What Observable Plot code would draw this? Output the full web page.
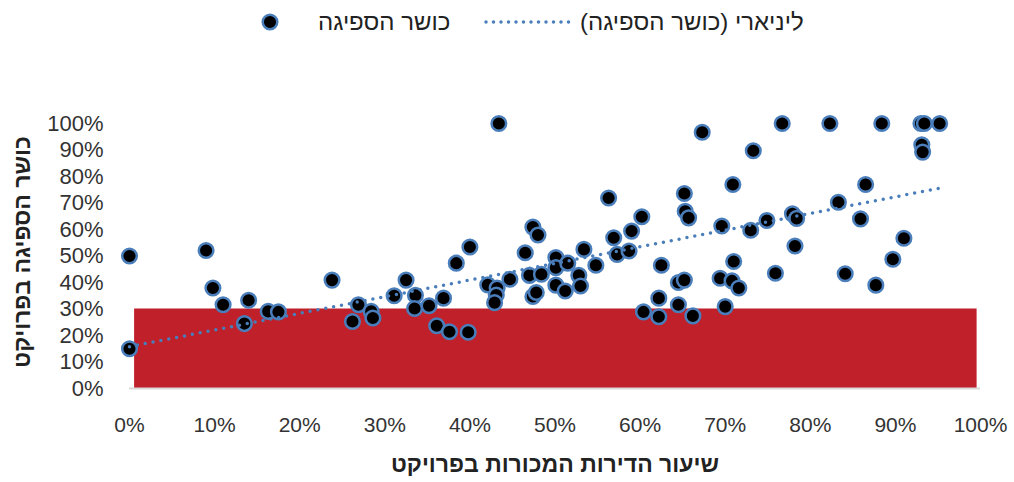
<!DOCTYPE html>
<html>
<head>
<meta charset="utf-8">
<script src="https://cdn.jsdelivr.net/npm/d3@7"></script>
<script src="https://cdn.jsdelivr.net/npm/@observablehq/plot@0.6"></script>
<style>
  body { margin: 0; background: #fff; font-family: "Liberation Sans", "DejaVu Sans", sans-serif; }
  #legend { position: relative; width: 1014px; height: 45px; font-size: 24px; color: #222; }
  #legend .it { position: absolute; top: 6px; line-height: 32px; white-space: nowrap; }
  #chart svg { display: block; }
</style>
</head>
<body>
<div id="legend">
  <svg class="it" style="left:258px;top:10px" width="24" height="24"><circle cx="12" cy="12" r="7.3" fill="#000" stroke="#4a7ebb" stroke-width="2.5"/></svg>
  <span class="it" dir="rtl" style="left:318px" id="lg1"></span>
  <svg class="it" style="left:482px;top:15px" width="98" height="14"><line x1="4" y1="7" x2="94" y2="7" stroke="#4a7ebb" stroke-width="3.5" stroke-dasharray="0 7.5" stroke-linecap="round"/></svg>
  <span class="it" dir="rtl" style="left:580px" id="lg2"></span>
</div>
<div id="chart"></div>
<script>
// ---- data (fractions) ----
const seriesName = "כושר הספיגה";
const trendName = "ליניארי (כושר הספיגה)";
const xTitle = "שיעור הדירות המכורות בפרויקט";
const yTitle = "כושר הספיגה בפרויקט";

const soldShare = [
  0.000, 0.000, 0.090, 0.098, 0.110, 0.135, 0.140, 0.163, 0.175, 0.238,
  0.262, 0.269, 0.284, 0.286, 0.311, 0.325, 0.336, 0.335, 0.352, 0.361,
  0.369, 0.376, 0.384, 0.398, 0.400, 0.421, 0.432, 0.431, 0.429, 0.434,
  0.447, 0.465, 0.474, 0.480, 0.470, 0.484, 0.474, 0.478, 0.501, 0.501,
  0.515, 0.501, 0.512, 0.528, 0.530, 0.534, 0.548, 0.563, 0.569, 0.573,
  0.587, 0.590, 0.602, 0.625, 0.604, 0.622, 0.622, 0.645, 0.645, 0.652,
  0.652, 0.653, 0.657, 0.662, 0.673, 0.767, 0.823, 0.884, 0.930, 0.934,
  0.952, 0.931, 0.932, 0.733, 0.709, 0.865, 0.833, 0.696, 0.730, 0.749,
  0.779, 0.784, 0.859, 0.782, 0.910, 0.897, 0.710, 0.694, 0.708, 0.716,
  0.759, 0.841, 0.877, 0.700
];
const absorption = [
  0.500, 0.150, 0.521, 0.379, 0.316, 0.245, 0.333, 0.291, 0.289, 0.409,
  0.253, 0.316, 0.291, 0.266, 0.350, 0.409, 0.352, 0.302, 0.312, 0.237,
  0.341, 0.214, 0.473, 0.212, 0.534, 0.391, 0.379, 0.353, 0.324, 1.000,
  0.412, 0.512, 0.609, 0.579, 0.427, 0.431, 0.347, 0.362, 0.494, 0.456,
  0.473, 0.390, 0.368, 0.427, 0.387, 0.525, 0.465, 0.719, 0.569, 0.506,
  0.519, 0.594, 0.648, 0.465, 0.289, 0.341, 0.271, 0.316, 0.400, 0.409,
  0.736, 0.669, 0.644, 0.274, 0.967, 1.000, 1.000, 1.000, 1.000, 1.000,
  1.000, 0.920, 0.892, 0.897, 0.770, 0.770, 0.703, 0.613, 0.597, 0.634,
  0.659, 0.642, 0.640, 0.538, 0.567, 0.488, 0.479, 0.416, 0.406, 0.379,
  0.435, 0.433, 0.390, 0.309
];
// linear trendline (endpoints)
const trendX = [0.000, 0.952];
const trendY = [0.158, 0.756];
// threshold band
const bandStart = [0.006];
const bandEnd = [0.996];
const bandLow = [0];
const bandHigh = [0.30];
const tickValues = [0, 0.1, 0.2, 0.3, 0.4, 0.5, 0.6, 0.7, 0.8, 0.9, 1.0];

document.getElementById("lg1").textContent = seriesName;
document.getElementById("lg2").textContent = trendName;

const points = soldShare.map((x, i) => ({x, y: absorption[i]}));
const trend = trendX.map((x, i) => ({x, y: trendY[i]}));
const band = bandStart.map((s, i) => ({x1: s, x2: bandEnd[i], y1: bandLow[i], y2: bandHigh[i]}));
const pct = d => Math.round(d * 100) + "%";
const blue = "#4a7ebb";
const font = '"Liberation Sans", "DejaVu Sans", sans-serif';

const chart = Plot.plot({
  width: 1014,
  height: 437,
  marginTop: 78,
  marginBottom: 94,
  marginLeft: 129,
  marginRight: 34,
  style: {fontFamily: font, fontSize: "21px", color: "#333", background: "#fff"},
  x: {domain: [0, 1], ticks: tickValues, tickFormat: pct, tickSize: 0, tickPadding: 29, label: null},
  y: {domain: [0, 1], ticks: tickValues, tickFormat: pct, tickSize: 0, tickPadding: 26, label: null},
  marks: [
    Plot.rect(band, {x1: "x1", x2: "x2", y1: "y1", y2: "y2", fill: "#c0202a"}),
    Plot.ruleY([0], {stroke: "#d9d9d9", strokeWidth: 2}),
    Plot.dot(points, {x: "x", y: "y", r: 7.3, fill: "#000", stroke: blue, strokeWidth: 2.5}),
    Plot.line(trend, {x: "x", y: "y", stroke: blue, strokeWidth: 3.5, strokeDasharray: "0 8", strokeLinecap: "round"}),
    Plot.text([xTitle], {frameAnchor: "bottom", dy: 83, fontSize: 23, fontWeight: "bold", fill: "#222"}),
    Plot.text([yTitle], {frameAnchor: "left", textAnchor: "middle", dx: -107, dy: -4, rotate: -90, fontSize: 23, fontWeight: "bold", fill: "#222"})
  ]
});
// y tick labels a little larger
d3.select(chart).selectAll('g[aria-label="y-axis tick label"] text').style("font-size", "22px");
document.getElementById("chart").appendChild(chart);
</script>
</body>
</html>
